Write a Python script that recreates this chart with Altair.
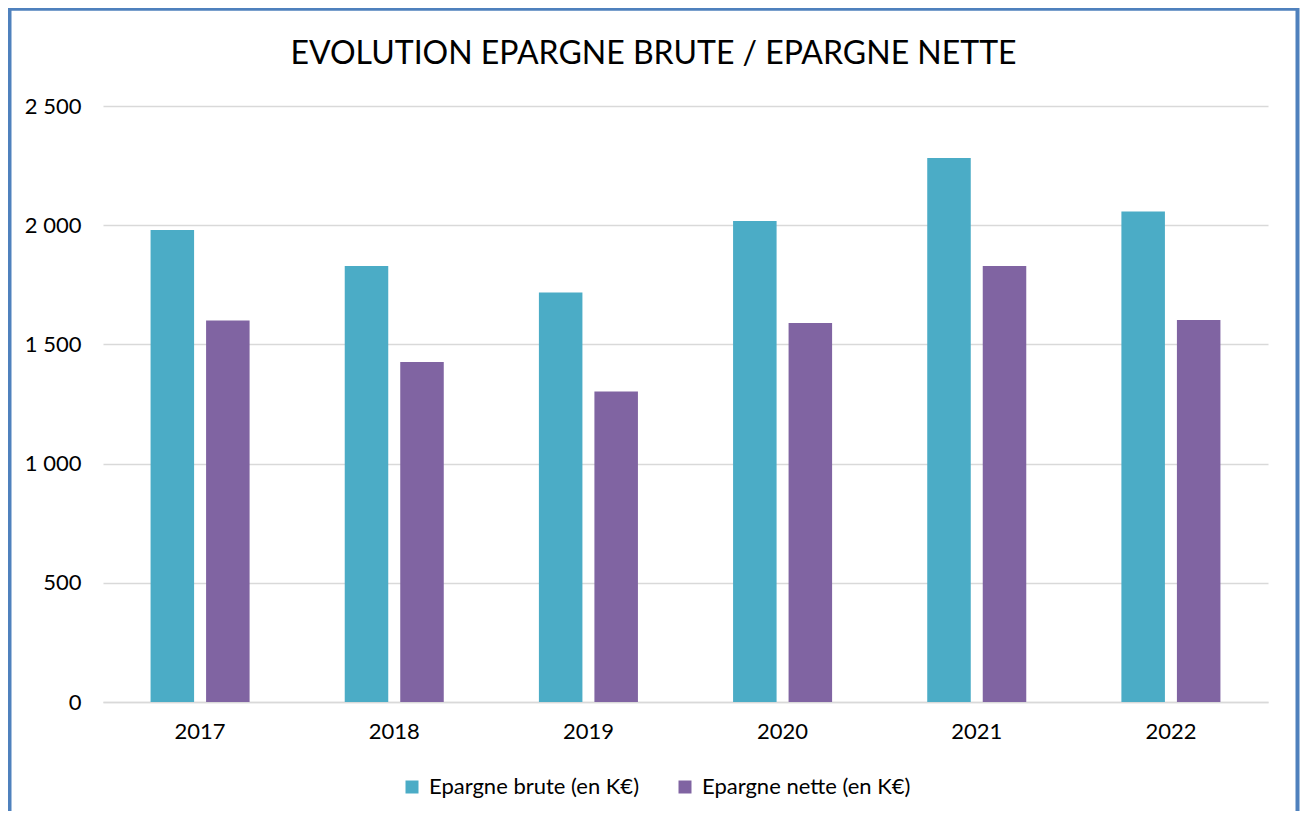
import altair as alt
import pandas as pd

years = ["2017", "2018", "2019", "2020", "2021", "2022"]
series_names = ["Epargne brute (en K€)", "Epargne nette (en K€)"]
brute = [1980, 1829, 1718, 2018, 2282, 2057]
nette = [1600, 1426, 1302, 1590, 1829, 1602]
colors = ["#4BACC6", "#8064A2"]
y_ticks = [0, 500, 1000, 1500, 2000, 2500]

rows = []
for i, y in enumerate(years):
    rows.append({"year": y, "serie": series_names[0], "value": brute[i]})
    rows.append({"year": y, "serie": series_names[1], "value": nette[i]})
df = pd.DataFrame(rows)

FONT = "Lato"
W, H = 1165, 596

bars = alt.Chart(df).mark_bar().encode(
    x=alt.X("year:N", sort=years,
            scale=alt.Scale(paddingInner=0, paddingOuter=0),
            axis=alt.Axis(title=None, labelAngle=0, ticks=False, labelPadding=19,
                          domain=True, domainColor="#d9d9d9", domainWidth=1.5,
                          labelFontSize=22, labelFont=FONT, labelColor="#000000")),
    xOffset=alt.XOffset("serie:N", sort=series_names,
                        scale=alt.Scale(paddingInner=0.216, paddingOuter=0.857)),
    y=alt.Y("value:Q",
            scale=alt.Scale(domain=[0, 2500], nice=False),
            axis=alt.Axis(title=None, values=y_ticks, ticks=False, domain=False,
                          gridColor="#d9d9d9", gridWidth=1.5, labelPadding=22,
                          labelFontSize=22, labelFont=FONT, labelColor="#000000",
                          labelExpr="replace(format(datum.value, ','), ',', ' ')")),
    color=alt.Color("serie:N", sort=series_names,
                    scale=alt.Scale(domain=series_names, range=colors),
                    legend=alt.Legend(title=None, orient="none", direction="horizontal",
                                      legendX=298, legendY=670, labelLimit=0,
                                      symbolType="square", symbolSize=169,
                                      symbolStrokeWidth=0, symbolOpacity=1,
                                      labelFontSize=22, labelFont=FONT,
                                      labelColor="#000000", columnPadding=35,
                                      labelOffset=6)),
)

border = alt.Chart(alt.Data(values=[{}])).mark_rect(
    fill=None, stroke="#4F81BD", strokeWidth=4
).encode(
    x=alt.value(-93.5), x2=alt.value(1194.5),
    y=alt.value(-97.3), y2=alt.value(740),
)

chart = alt.layer(bars, border).properties(
    width=W, height=H,
    padding={"left": 95, "top": 98, "right": 32, "bottom": 109},
    autosize=alt.AutoSizeParams(type="none"),
    title=alt.TitleParams("EVOLUTION EPARGNE BRUTE / EPARGNE NETTE",
                          fontSize=32, font=FONT, fontWeight="normal",
                          color="#000000", anchor="middle", dx=-32,
                          baseline="alphabetic", offset=-89),
).configure_view(stroke=None)

chart.save("out.html", embed_options={"renderer": "svg", "actions": False})
